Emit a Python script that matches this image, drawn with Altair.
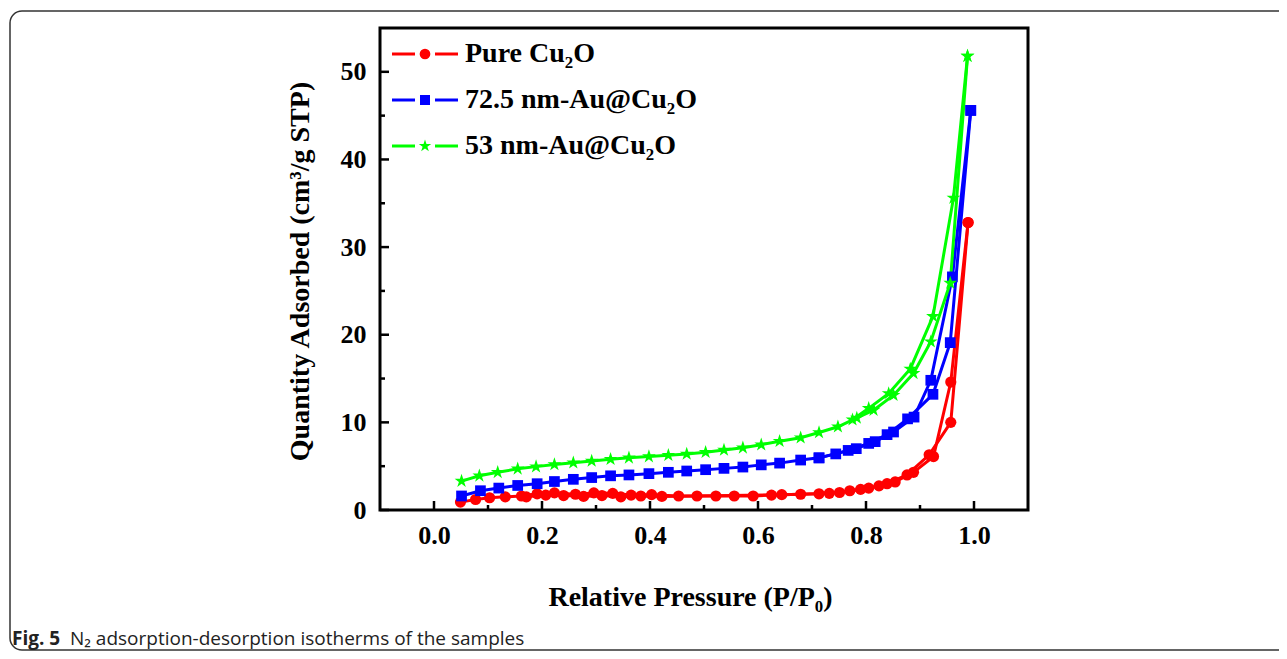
import altair as alt
import pandas as pd

SERIES = ["Pure Cu₂O", "72.5 nm-Au@Cu₂O", "53 nm-Au@Cu₂O"]
COLORS = ["#FF0000", "#0000FF", "#00FF00"]
STAR = ("M0,-1L0.225,-0.309L0.951,-0.309L0.363,0.118L0.588,0.809L0,0.382"
        "L-0.588,0.809L-0.363,0.118L-0.951,-0.309L-0.225,-0.309Z")
SHAPES = ["circle", "square", STAR]
MSIZE = [125, 115, 210]

# Pure Cu2O
red_ads_x = [0.049, 0.077, 0.103, 0.132, 0.162, 0.191, 0.223, 0.262, 0.296, 0.331, 0.365, 0.403,
             0.453, 0.487, 0.522, 0.556, 0.591, 0.625, 0.679, 0.732, 0.770, 0.805, 0.839, 0.876,
             0.917, 0.957, 0.989]
red_ads_y = [0.9, 1.2, 1.4, 1.5, 1.6, 1.85, 1.95, 1.8, 1.95, 1.9, 1.7, 1.75,
             1.6, 1.6, 1.6, 1.6, 1.6, 1.7, 1.8, 1.9, 2.2, 2.5, 3.0, 4.0,
             6.3, 10.0, 32.8]
red_des_x = [0.989, 0.957, 0.925, 0.888, 0.854, 0.824, 0.790, 0.751, 0.713, 0.644,
             0.422, 0.383, 0.346, 0.311, 0.277, 0.240, 0.207, 0.171]
red_des_y = [32.8, 14.6, 6.1, 4.3, 3.2, 2.75, 2.35, 2.0, 1.85, 1.75,
             1.55, 1.6, 1.5, 1.65, 1.55, 1.65, 1.7, 1.5]

# 72.5 nm-Au@Cu2O
blue_ads_x = [0.051, 0.086, 0.120, 0.155, 0.191, 0.223, 0.258, 0.292, 0.327, 0.361, 0.398, 0.434,
              0.468, 0.503, 0.537, 0.572, 0.606, 0.640, 0.679, 0.713, 0.767, 0.805, 0.839, 0.877,
              0.924, 0.956, 0.994]
blue_ads_y = [1.6, 2.2, 2.5, 2.8, 3.0, 3.25, 3.5, 3.7, 3.9, 4.0, 4.15, 4.3,
              4.45, 4.6, 4.75, 4.9, 5.15, 5.35, 5.7, 5.95, 6.8, 7.6, 8.6, 10.4,
              13.2, 19.1, 45.6]
blue_des_x = [0.994, 0.960, 0.920, 0.889, 0.851, 0.817, 0.782, 0.744, 0.713]
blue_des_y = [45.6, 26.6, 14.8, 10.6, 8.9, 7.8, 7.0, 6.4, 5.95]

# 53 nm-Au@Cu2O
green_ads_x = [0.051, 0.084, 0.118, 0.155, 0.189, 0.223, 0.258, 0.292, 0.327, 0.361, 0.398, 0.434,
               0.468, 0.503, 0.537, 0.572, 0.606, 0.640, 0.679, 0.713, 0.748, 0.783, 0.814, 0.851,
               0.888, 0.920, 0.956, 0.988]
green_ads_y = [3.3, 3.9, 4.3, 4.7, 4.95, 5.2, 5.4, 5.6, 5.8, 5.95, 6.1, 6.25,
               6.4, 6.6, 6.85, 7.1, 7.45, 7.85, 8.25, 8.85, 9.5, 10.5, 11.4, 13.1,
               15.6, 19.2, 25.9, 51.8]
green_des_x = [0.988, 0.962, 0.924, 0.882, 0.842, 0.805, 0.775]
green_des_y = [51.8, 35.6, 22.1, 16.1, 13.3, 11.6, 10.3]

X_TICKS = [0.0, 0.2, 0.4, 0.6, 0.8, 1.0]
X_MINOR = [0.1, 0.3, 0.5, 0.7, 0.9]
Y_TICKS = [0, 10, 20, 30, 40, 50]
Y_MINOR = [5, 15, 25, 35, 45]

rows = []
branches = [
    (0, "ads", red_ads_x, red_ads_y), (0, "des", red_des_x, red_des_y),
    (1, "ads", blue_ads_x, blue_ads_y), (1, "des", blue_des_x, blue_des_y),
    (2, "ads", green_ads_x, green_ads_y), (2, "des", green_des_x, green_des_y),
]
for si, br, xs, ys in branches:
    for i, (xv, yv) in enumerate(zip(xs, ys)):
        rows.append({"series": SERIES[si], "key": f"{si}-{br}", "idx": i, "x": xv, "y": yv,
                     "msize": MSIZE[si]})
df = pd.DataFrame(rows)

W, H = 648, 482
FONT = "Liberation Serif"

xscale = alt.Scale(domain=[-0.1, 1.1], nice=False, zero=False)
yscale = alt.Scale(domain=[0, 55], nice=False, zero=False)

X = alt.X("x:Q", scale=xscale, axis=alt.Axis(
    orient="bottom",
    values=X_TICKS, format=".1f", ticks=False, tickSize=0, domain=False, grid=False,
    labelFont=FONT, labelFontWeight="bold", labelFontSize=26, labelColor="black",
    labelPadding=12, labelFlush=False, labelOverlap=False,
    title="Relative Pressure (P/P₀)", titleFont=FONT, titleFontSize=28, titleFontWeight="bold",
    titleColor="black", titleX=310, titleY=87, titleBaseline="middle"))
Y = alt.Y("y:Q", scale=yscale, axis=alt.Axis(
    orient="left",
    values=Y_TICKS, format="d", ticks=False, tickSize=0, domain=False, grid=False,
    labelFont=FONT, labelFontWeight="bold", labelFontSize=26, labelColor="black",
    labelPadding=14, labelFlush=False, labelOverlap=False,
    title="Quantity Adsorbed (cm³/g STP)", titleFont=FONT, titleFontSize=28, titleFontWeight="bold",
    titleColor="black", titleX=-80, titleY=243, titleAngle=270, titleAlign="center",
    titleBaseline="middle"))

color = alt.Color("series:N", scale=alt.Scale(domain=SERIES, range=COLORS), legend=None)
shape = alt.Shape("series:N", scale=alt.Scale(domain=SERIES, range=SHAPES), legend=None)

lines = alt.Chart(df).mark_line(strokeWidth=3, clip=True).encode(
    x=X, y=Y, color=color, detail="key:N", order="idx:Q")
points = alt.Chart(df).mark_point(filled=True, opacity=1, clip=True).encode(
    x=X, y=Y, color=color, shape=shape, size=alt.Size("msize:Q", scale=None))

xt_major = alt.Chart(pd.DataFrame({"x": X_TICKS})).mark_rule(color="black", strokeWidth=2.5).encode(
    x=X, y=alt.value(H), y2=alt.value(H - 9))
xt_minor = alt.Chart(pd.DataFrame({"x": X_MINOR})).mark_rule(color="black", strokeWidth=2.5).encode(
    x=X, y=alt.value(H), y2=alt.value(H - 5))
yt_major = alt.Chart(pd.DataFrame({"y": Y_TICKS})).mark_rule(color="black", strokeWidth=2.5).encode(
    y=Y, x=alt.value(0), x2=alt.value(9))
yt_minor = alt.Chart(pd.DataFrame({"y": Y_MINOR})).mark_rule(color="black", strokeWidth=2.5).encode(
    y=Y, x=alt.value(0), x2=alt.value(5))

layers = [lines, points, xt_major, xt_minor, yt_major, yt_minor]

# legend
for i, name in enumerate(SERIES):
    ry = 26 + 46 * i
    ldf = pd.DataFrame({"series": [name]})
    layers.append(alt.Chart(ldf).mark_rule(strokeWidth=3).encode(
        x=alt.value(12), x2=alt.value(35), y=alt.value(ry), color=color))
    layers.append(alt.Chart(ldf).mark_rule(strokeWidth=3).encode(
        x=alt.value(55), x2=alt.value(78), y=alt.value(ry), color=color))
    layers.append(alt.Chart(ldf).mark_point(filled=True, opacity=1, size=[115, 100, 170][i]).encode(
        x=alt.value(45), y=alt.value(ry), color=color, shape=shape))
    layers.append(alt.Chart(ldf).mark_text(align="left", baseline="middle", font=FONT,
                                           fontWeight="bold", fontSize=28, color="black").encode(
        x=alt.value(85), y=alt.value(ry), text="series:N"))

one = pd.DataFrame({"a": [0]})
border = alt.Chart(one).mark_rect(fillOpacity=0, stroke="#333333", strokeWidth=1.5,
                                  cornerRadius=12).encode(
    x=alt.value(-370), x2=alt.value(930), y=alt.value(-17), y2=alt.value(622))
cap_bold = alt.Chart(one).mark_text(align="left", baseline="alphabetic", font="Open Sans",
                                    fontWeight="bold", fontSize=19, color="#222222").encode(
    x=alt.value(-368), y=alt.value(617), text=alt.value("Fig. 5"))
cap_text = alt.Chart(one).mark_text(align="left", baseline="alphabetic", font="Open Sans",
                                    fontSize=19, color="#222222").encode(
    x=alt.value(-310), y=alt.value(617),
    text=alt.value("N₂ adsorption-desorption isotherms of the samples"))
layers += [border, cap_bold, cap_text]

chart = alt.layer(*layers).properties(
    width=W, height=H,
    autosize=alt.AutoSizeParams(type="none"),
    padding={"left": 372, "top": 20, "right": 251, "bottom": 141},
    background="white",
).configure_view(stroke="black", strokeWidth=3)

chart.save("out.html", embed_options={"renderer": "svg", "actions": False})
